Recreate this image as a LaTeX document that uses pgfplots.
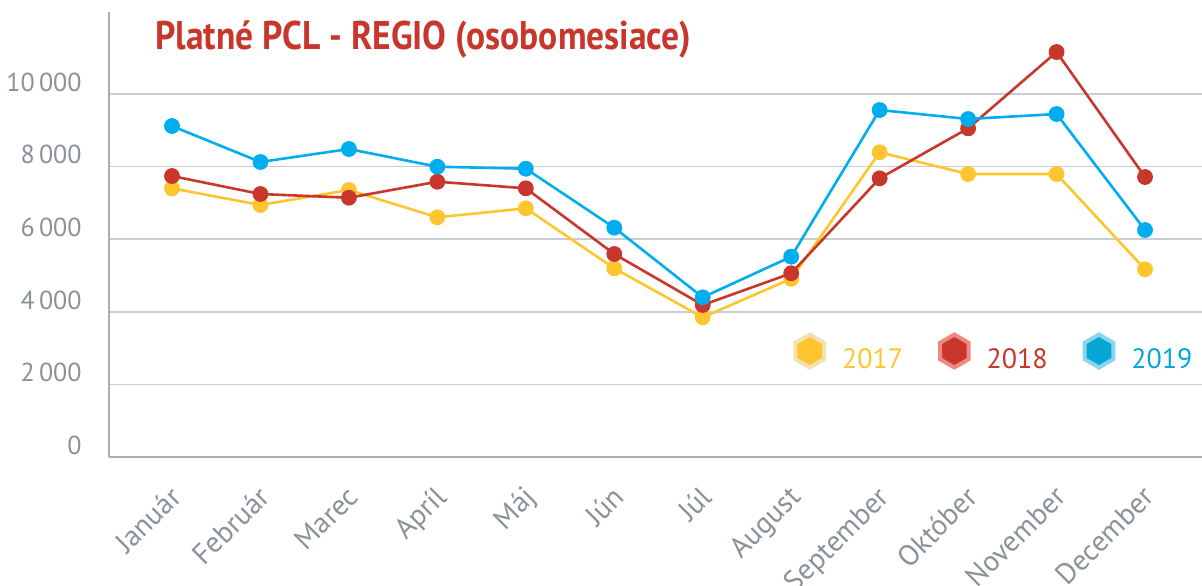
\documentclass[border=0pt]{standalone}
\usepackage{pgfplots}
\pgfplotsset{compat=1.18}
\usepackage{fontspec}
\setmainfont{PT Sans}
\usetikzlibrary{shapes.geometric}
\definecolor{cyel}{HTML}{FEC52E}
\definecolor{cred}{HTML}{C9372C}
\definecolor{cblu}{HTML}{00AEEF}
\definecolor{cgray}{HTML}{8B9199}
\definecolor{cgrid}{HTML}{C9CDD3}
\definecolor{caxis}{HTML}{A9AFB6}
\definecolor{lyel}{HTML}{F4E0B3}
\definecolor{lred}{HTML}{EE8A80}
\definecolor{lblu}{HTML}{8BD5EE}
\definecolor{hblu}{HTML}{07A6D4}
\begin{document}
\begin{tikzpicture}
\begin{axis}[
  at={(0,0)}, anchor=south west,
  scale only axis, width=546.5pt, height=222.5pt,
  xmin=-0.712, xmax=11.644, ymin=0, ymax=12259,
  axis x line=bottom, axis y line=left,
  axis line style={caxis, line width=0.8pt, -},
  xtick={0,...,11},
  xticklabels={Január,Február,Marec,Apríl,Máj,Jún,Júl,August,September,Október,November,December},
  ytick={0,2000,4000,6000,8000,10000},
  scaled y ticks=false,
  ymajorgrids, grid style={cgrid, line width=0.8pt},
  major tick length=0pt,
  tick label style={text=cgray},
  yticklabel style={font=\fontsize{13}{15}\selectfont, anchor=south east, inner sep=0pt, xshift=-13.5pt, yshift=1pt, /pgf/number format/1000 sep={\,}},
  xticklabel style={font=\fontsize{14.5}{16}\selectfont, rotate=45, anchor=north east, inner sep=0pt, xshift=-10.8pt, yshift=-8.2pt},
  /pgf/number format/assume math mode=true,
  legend columns=3,
  legend style={draw=none, fill=none, at={(rel axis cs:0.997,0.236)}, anchor=east,
    font=\fontsize{14}{16}\selectfont, column sep=0pt, nodes={inner sep=0pt},
    /tikz/every odd column/.append style={column sep=8pt},
    /tikz/every even column/.append style={column sep=17.5pt}},
]
\addplot[cyel, line width=1.3pt, mark=*, mark size=3.3pt, mark options={draw=none, fill=cyel},
  legend image code/.code={\node[regular polygon, regular polygon sides=6, shape border rotate=30, minimum size=16.5pt, inner sep=0pt, fill=cyel, draw=lyel, line width=2pt] at (9.25pt,4.5pt) {};}]
coordinates {(0,7402) (1,6942) (2,7355) (3,6603) (4,6851) (5,5198) (6,3848) (7,4912) (8,8394) (9,7796) (10,7796) (11,5171)};
\addlegendentry{\textcolor{cyel}{2017}}
\addplot[cred, line width=1.3pt, mark=*, mark size=3.3pt, mark options={draw=none, fill=cred},
  legend image code/.code={\node[regular polygon, regular polygon sides=6, shape border rotate=30, minimum size=16.5pt, inner sep=0pt, fill=cred, draw=lred, line width=2pt] at (9.25pt,4.5pt) {};}]
coordinates {(0,7741) (1,7245) (2,7143) (3,7584) (4,7402) (5,5592) (6,4187) (7,5061) (8,7677) (9,9055) (10,11157) (11,7713)};
\addlegendentry{\textcolor{cred}{2018}}
\addplot[cblu, line width=1.3pt, mark=*, mark size=3.3pt, mark options={draw=none, fill=cblu},
  legend image code/.code={\node[regular polygon, regular polygon sides=6, shape border rotate=30, minimum size=16.5pt, inner sep=0pt, fill=hblu, draw=lblu, line width=2pt] at (9.25pt,4.5pt) {};}]
coordinates {(0,9118) (1,8127) (2,8485) (3,7997) (4,7942) (5,6317) (6,4399) (7,5518) (8,9559) (9,9311) (10,9449) (11,6253)};
\addlegendentry{\textcolor{hblu}{2019}}
\node[anchor=base west, inner sep=0pt, text=cred, font=\fontsize{20}{24}\selectfont\bfseries] at (rel axis cs:0.042,0.915) {\scalebox{0.888}[1]{Platné PCL - REGIO (osobomesiace)}};
\end{axis}
\pgfresetboundingbox
\useasboundingbox (-54.5pt,-64pt) rectangle (546.5pt,228.5pt);
\end{tikzpicture}
\end{document}
